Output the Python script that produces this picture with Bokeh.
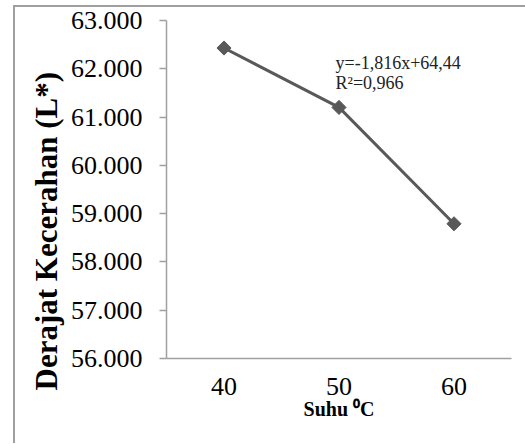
import math
from bokeh.plotting import figure
from bokeh.models import FactorRange, Range1d, FixedTicker, NumeralTickFormatter, Label, Title
from bokeh.embed import file_html
from bokeh.resources import INLINE

categories = ["40", "50", "60"]
values = [62.43, 61.20, 58.79]
y_ticks = [56, 57, 58, 59, 60, 61, 62, 63]
equation = "y=-1,816x+64,44"
r_squared = "R\u00b2=0,966"
x_title = "Suhu \u2070C"
y_title = "Derajat Kecerahan (L*)"

SERIF = "Liberation Serif"
EDGE = "#a0a0a0"

# outer chart-area border drawn as CSS background lines behind a transparent canvas
border_css = {
    "background-color": "white",
    "background-image": f"linear-gradient({EDGE},{EDGE}), linear-gradient({EDGE},{EDGE})",
    "background-size": "2px 438px, 512px 2px",
    "background-position": "13px 5px, 13px 5px",
    "background-repeat": "no-repeat",
}

p = figure(width=525, height=444, x_range=FactorRange(*categories, range_padding=0),
           y_range=Range1d(56, 63), output_backend="svg", toolbar_location=None,
           min_border_left=166, min_border_right=14, min_border_top=20, min_border_bottom=86,
           styles=border_css)
p.outline_line_color = None
p.grid.visible = False
p.background_fill_color = "white"
p.border_fill_color = None

p.line(categories, values, line_color="#595959", line_width=3)
p.scatter(categories, values, marker="square", angle=math.pi / 4, size=10,
          fill_color="#595959", line_color="#595959")

ya = p.yaxis[0]
ya.ticker = FixedTicker(ticks=y_ticks)
ya.formatter = NumeralTickFormatter(format="0.000")
ya.minor_tick_line_color = None
ya.major_tick_in = 0
ya.major_tick_out = 7
ya.major_tick_line_color = EDGE
ya.major_tick_line_width = 1.5
ya.axis_line_color = EDGE
ya.axis_line_width = 1.5
ya.major_label_text_font = SERIF
ya.major_label_text_font_size = "26px"
ya.major_label_text_color = "black"
ya.major_label_standoff = 17

xa = p.xaxis[0]
xa.major_tick_line_color = None
xa.major_tick_out = 0
xa.major_tick_in = 0
xa.axis_line_color = EDGE
xa.axis_line_width = 1.5
xa.major_label_text_font = SERIF
xa.major_label_text_font_size = "26px"
xa.major_label_text_color = "black"
xa.major_label_standoff = 19
xa.axis_label = x_title
xa.axis_label_text_font = SERIF
xa.axis_label_text_font_style = "bold"
xa.axis_label_text_font_size = "20px"
xa.axis_label_text_color = "black"
xa.axis_label_standoff = 0

p.add_layout(Label(x=169, y=296, x_units="screen", y_units="screen", text=equation,
                   text_font=SERIF, text_font_size="18px", text_color="#222222",
                   text_baseline="alphabetic"))
p.add_layout(Label(x=169, y=276, x_units="screen", y_units="screen", text=r_squared,
                   text_font=SERIF, text_font_size="18px", text_color="#222222",
                   text_baseline="alphabetic"))

p.add_layout(Title(text=y_title, align="left", offset=-32, text_font=SERIF,
                   text_font_style="bold", text_font_size="31px", text_color="black",
                   standoff=8), "left")

open("out.html", "w").write(file_html(p, INLINE))
